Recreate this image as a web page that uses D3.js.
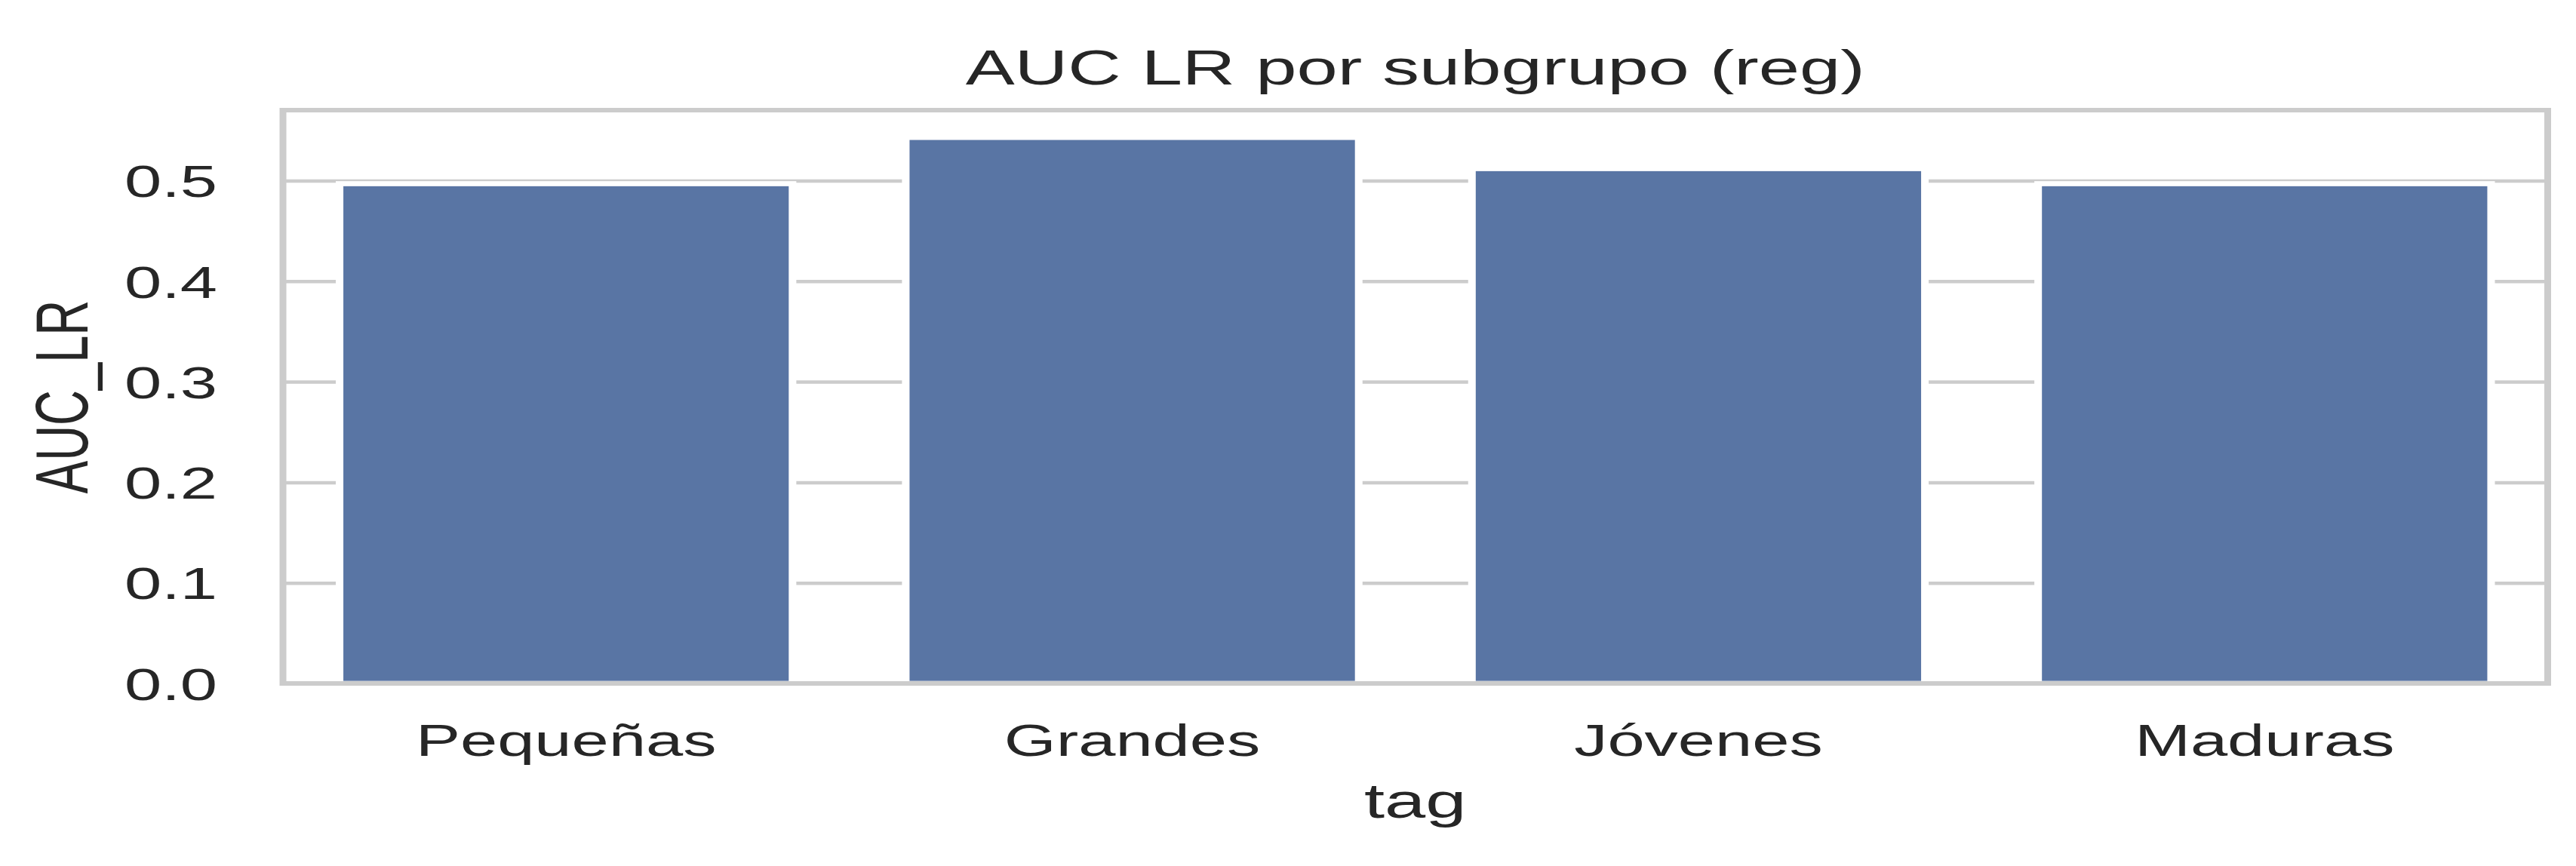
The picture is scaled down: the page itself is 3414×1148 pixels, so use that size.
<!DOCTYPE html>
<html>
<head>
<meta charset="utf-8">
<script src="https://cdn.jsdelivr.net/npm/d3@7"></script>
<style>
body{margin:0;background:#fff;}
text{font-family:"Liberation Sans",Arial,sans-serif;fill:#262626;}
</style>
</head>
<body>
<svg width="3414" height="1148"></svg>
<script>
// data
var categories = ['Pequeñas', 'Grandes', 'Jóvenes', 'Maduras'];
var aucValues = [0.497, 0.543, 0.512, 0.497];
var yTicks = [0, 0.1, 0.2, 0.3, 0.4, 0.5];
var title = 'AUC LR por subgrupo (reg)';
var xLabel = 'tag';
var yLabel = 'AUC_LR';

var svg = d3.select('svg');
svg.append('rect').attr('width', 3414).attr('height', 1148).attr('fill', 'white');

// the original picture is stretched sideways, so everything lives in a scaled group
var stretch = 1.5;
var g = svg.append('g').attr('transform', 'scale(' + stretch + ',1)');

// plot area (unstretched units across, pixels down)
var axLeft = 250, axRight = 2251, axTop = 146, axBottom = 906;

var x = d3.scaleBand().domain(categories).range([axLeft, axRight]).paddingInner(0.2).paddingOuter(0.1);
var y = d3.scaleLinear().domain([0, d3.max(aucValues) * 1.05]).range([axBottom, axTop]);

// grid + y tick labels
var yAxis = g.append('g')
  .attr('transform', 'translate(' + axLeft + ',0)')
  .call(d3.axisLeft(y).tickValues(yTicks).tickFormat(d3.format('.1f')).tickSize(-(axRight - axLeft)).tickPadding(58));
yAxis.select('.domain').remove();
yAxis.attr('font-family', null).attr('font-size', null);
yAxis.selectAll('line').attr('stroke', '#cccccc').attr('stroke-width', 4.5);
yAxis.selectAll('text').attr('font-size', 59).attr('dy', '0.36em').attr('fill', '#262626');

// bars
g.selectAll('.bar').data(aucValues).enter().append('rect')
  .attr('class', 'bar')
  .attr('x', function(d, i){ return x(categories[i]); })
  .attr('y', function(d){ return y(d); })
  .attr('width', x.bandwidth())
  .attr('height', function(d){ return y(0) - y(d); })
  .attr('fill', '#5975a4')
  .attr('stroke', 'white')
  .attr('stroke-width', 6.7);

// x tick labels
var xAxis = g.append('g')
  .attr('transform', 'translate(0,' + axBottom + ')')
  .call(d3.axisBottom(x).tickSize(0).tickPadding(96));
xAxis.select('.domain').remove();
xAxis.attr('font-family', null).attr('font-size', null);
xAxis.selectAll('text').attr('font-size', 59).attr('dy', '0').attr('fill', '#262626');

// spines
g.append('rect')
  .attr('x', axLeft).attr('y', axTop)
  .attr('width', axRight - axLeft).attr('height', axBottom - axTop)
  .attr('fill', 'none').attr('stroke', '#cccccc').attr('stroke-width', 6);

// title and axis labels
g.append('text').attr('x', (axLeft + axRight) / 2).attr('y', 112)
  .attr('text-anchor', 'middle').attr('font-size', 65).text(title);
g.append('text').attr('x', (axLeft + axRight) / 2).attr('y', 1084)
  .attr('text-anchor', 'middle').attr('font-size', 65).text(xLabel);
g.append('text')
  .attr('transform', 'translate(77,' + (axTop + axBottom) / 2 + ') rotate(-90)')
  .attr('text-anchor', 'middle').attr('font-size', 65).text(yLabel);
</script>
</body>
</html>
